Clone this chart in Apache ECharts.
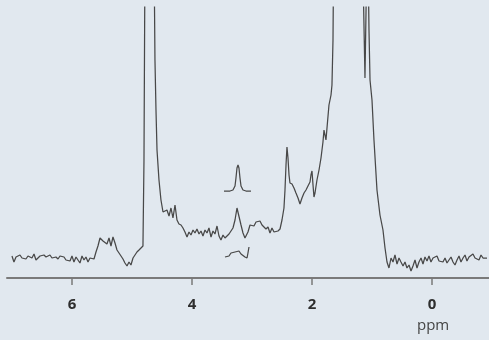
<!DOCTYPE html>
<html><head><meta charset="utf-8">
<script src="https://cdn.jsdelivr.net/npm/echarts@6/dist/echarts.min.js"></script>
<style>html,body{margin:0;padding:0;background:#e1e8ef}#c{width:489px;height:340px}</style>
</head><body><div id="c"></div>
<script>
// Main spectrum: chemical shift (ppm) and intensity (arbitrary units)
const mainPpm = [7.000,6.967,6.933,6.900,6.867,6.833,6.800,6.767,6.733,6.700,6.667,6.633,6.600,6.567,6.533,6.500,6.467,6.433,6.400,6.367,6.333,6.300,6.267,6.233,6.200,6.167,6.133,6.100,6.067,6.033,6.000,5.967,5.933,5.900,5.867,5.833,5.800,5.767,5.733,5.700,5.667,5.633,
5.600,5.567,5.533,5.517,5.483,5.450,5.417,5.383,5.350,5.317,5.283,5.250,5.217,5.183,5.150,5.117,5.083,5.050,5.017,4.983,4.950,4.917,4.883,4.850,4.817,4.800,4.783,4.708,4.633,4.617,4.600,4.583,4.550,4.517,4.483,4.450,4.417,4.383,4.350,4.317,4.283,4.250,4.217,4.183,4.150,4.117,4.083,4.050,4.017,3.983,3.950,3.917,3.883,3.850,3.817,3.783,3.750,3.717,3.683,3.650,3.617,3.583,3.550,3.517,3.483,3.450,3.417,3.383,3.350,3.317,3.283,3.250,3.233,3.217,3.183,3.150,3.117,3.100,3.067,3.033,3.000,2.967,2.933,2.900,2.867,2.833,2.800,2.767,2.733,2.700,2.667,2.633,2.600,2.567,2.533,2.500,2.467,2.450,2.433,2.417,2.400,2.383,2.367,2.333,2.300,2.267,2.233,2.200,2.167,2.133,2.100,2.067,2.033,2.017,2.000,1.983,1.967,1.950,1.917,1.883,1.850,1.817,1.800,1.783,1.767,1.750,1.717,1.683,1.667,1.650,1.642,1.400,1.158,1.117,1.100,1.075,1.050,1.033,1.000,0.967,0.917,0.867,0.817,0.783,0.750,0.717,0.683,
0.650,0.617,0.583,0.550,0.517,0.483,0.450,0.417,0.383,0.350,0.317,0.283,0.250,0.217,0.183,0.150,0.117,0.083,0.050,0.017,-0.017,-0.050,-0.083,-0.117,-0.150,-0.183,-0.217,-0.250,-0.283,-0.317,-0.350,-0.383,-0.417,-0.450,-0.483,-0.517,-0.550,-0.583,-0.617,-0.650,-0.683,-0.717,-0.750,-0.783,-0.817,-0.850,-0.883,-0.917,-0.950];
const mainInt = [22,16,21,19,23,20,21,19,22,21,20,24,18,16,22,20,23,21,22,23,20,22,21,19,22,20,21,18,20,17,22,16,21,19,15,22,18,21,16,20,22,19,
26,32,40,42,37,39,34,40,32,41,35,28,26,22,19,15,12,16,13,20,22,26,28,30,32,118,330,700,330,218,168,128,98,78,66,64,68,62,70,60,73,58,54,53,50,46,41,46,43,48,45,49,44,47,42,48,45,50,41,47,44,52,42,38,43,40,42,44,45,50,58,70,72,68,53,45,40,38,46,53,55,52,56,54,57,53,54,49,51,45,50,46,44,47,49,58,70,88,113,131,120,103,95,94,90,85,80,74,80,85,88,92,96,103,107,93,81,85,98,108,120,136,148,146,138,150,173,183,193,238,300,800,330,200,200,360,248,198,178,138,88,63,48,30,16,10,
20,16,23,14,20,16,12,16,10,13,7,12,18,10,16,20,14,21,17,22,16,20,18,22,17,19,16,20,15,18,21,16,13,18,22,16,20,23,17,21,19,24,20,22,18,23,20,22,20];
// Inset: reference peak (upper) and noise trace (lower)
const insetPeakPpm = [3.467,3.367,3.317,3.283,3.267,3.250,3.233,3.217,3.200,3.183,3.150,3.100,3.017];
const insetPeakInt = [87,87,88,92,100,110,113,110,100,92,88,87,87];
const insetNoisePpm = [3.450,3.417,3.383,3.350,3.317,3.283,3.250,3.217,3.183,3.150,3.117,3.083,3.067,3.050];
const insetNoiseInt = [21,23,22,25,23,26,24,27,24,25,21,20,25,31];
const tickValues = [6,4,2,0];
const axisName = 'ppm';

const zip = (a,b)=>a.map((v,i)=>[v,b[i]]);
const lineSeries = (data)=>({type:'line',data,symbol:'none',showSymbol:false,clip:true,
  lineStyle:{color:'#484848',width:1.25},itemStyle:{color:'#484848'},animation:false,silent:true});

const chart = echarts.init(document.getElementById('c'),null,{renderer:'canvas'});
chart.setOption({
  backgroundColor:'#e1e8ef',
  animation:false,
  grid:{left:7,right:0,top:7,bottom:62,containLabel:false,outerBoundsMode:'none'},
  xAxis:{type:'value',inverse:true,min:-0.95,max:7.083,
    axisLine:{show:true,onZero:false,lineStyle:{color:'#7a7a7a',width:2}},
    axisTick:{show:true,length:7,customValues:tickValues,lineStyle:{color:'#7a7a7a',width:1.5}},
    axisLabel:{show:true,customValues:tickValues,margin:19,color:'#2e2e2e',fontSize:15,fontWeight:'bold',fontFamily:'Open Sans'},
    splitLine:{show:false}},
  yAxis:{type:'value',min:0,max:271,show:false,splitLine:{show:false}},
  graphic:[{type:'text',left:417,top:318,style:{text:axisName,fill:'#444',font:'15px "Open Sans"'}}],
  series:[lineSeries(zip(mainPpm,mainInt)),lineSeries(zip(insetPeakPpm,insetPeakInt)),lineSeries(zip(insetNoisePpm,insetNoiseInt))]
});
</script></body></html>
